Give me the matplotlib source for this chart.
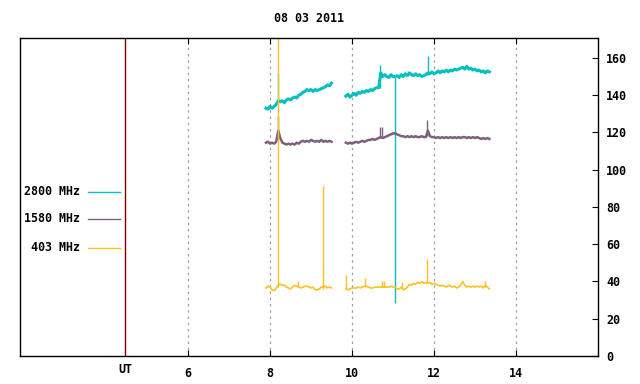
import numpy as np
import matplotlib
matplotlib.use("Agg")
import matplotlib.pyplot as plt

# ---- data (hours UT, solar flux units) ----
title = "08 03 2011"
labels = ["2800 MHz", "1580 MHz", "403 MHz"]
colors = ["#00c0c0", "#7f5f7f", "#ffc020"]
widths = [2.2, 1.8, 1.2]

seg1_start, seg1_end = 7.90, 9.50
seg2_start, seg2_end = 9.85, 13.35

f2800_seg1 = [133, 132.5, 134, 133, 134, 135, 137, 136.5, 137, 136, 137.5, 138, 137.5,
              138.5, 139, 138.5, 140, 140.5, 141.5, 142, 143, 142.5, 143, 142, 143,
              142.5, 143, 143.5, 144, 144.5, 145.5, 145, 146.5]
f2800_seg2 = [139.5, 140.5, 139, 140, 141, 140, 141.5, 141, 142, 141.5, 142.5, 142, 143,
              142.5, 143.5, 144, 144, 152, 150, 151, 150, 149.5, 151, 150, 150, 150.5,
              149.5, 151, 150, 151.5, 150.5, 152, 151, 150.5, 151.5, 150.5, 151, 150,
              150.5, 151, 152, 151.5, 152.5, 151.5, 152, 153, 152, 153, 152.5, 153.5,
              152.5, 153.5, 153, 154, 153.5, 154, 154.5, 155, 154, 155.5, 154, 154.5,
              153.5, 154, 153, 153.5, 152.5, 153, 152, 153, 152.5]
f2800_spike_t = [8.20, 10.68, 11.05, 11.85]
f2800_spike_lo = [136, 144, 150, 151]
f2800_spike_hi = [152, 156, 28.5, 161]

f1580_seg1 = [114.5, 115, 114, 114.5, 114, 115, 121, 117, 114.5, 114, 113.5, 114, 113.5,
              114, 113.5, 114.5, 114, 115, 115.5, 115, 115.5, 115, 116, 115.5, 115,
              115.5, 115, 116, 115, 115.5, 115, 115.5, 115]
f1580_seg2 = [114.5, 114, 114.5, 114, 114.5, 115, 114.5, 115, 115.5, 115, 115.5, 116,
              116, 116.5, 116, 116.5, 117, 117.5, 117, 117.5, 118, 118.5, 119, 119.5,
              119.5, 119, 118.5, 118, 118, 117.5, 118, 117.5, 118, 117.5, 118, 117.5,
              117.5, 118, 117.5, 117.5, 121, 118, 117.5, 117.5, 117, 117.5, 117, 117.5,
              117, 117.5, 117, 117.5, 117, 117.5, 117, 117.5, 117, 117.5, 117.5, 117,
              117.5, 117, 117.5, 117, 117.5, 117, 116.5, 117, 116.5, 117, 116.5]
f1580_spike_t = [8.20, 10.68, 10.74, 11.83]
f1580_spike_lo = [116, 117, 117, 118]
f1580_spike_hi = [129, 123, 123, 126.7]

f403_seg1 = [36.5, 37.5, 37, 35.5, 35, 36.5, 38, 38.5, 38, 38, 37, 36.5, 36, 37, 38,
             37.5, 37, 36.5, 37, 37.5, 37.5, 37, 36.5, 37, 35.5, 35.5, 36, 37, 37,
             37.5, 36.5, 37, 36.5]
f403_seg2 = [36, 35.5, 36, 36.5, 36.5, 36.5, 37, 36.5, 37, 37.5, 37.5, 37, 36.5, 36.5,
             37, 37, 37, 37, 37, 37, 37, 37, 37.5, 37, 37, 36, 36, 37, 35.5, 36, 37,
             38.5, 38, 39, 38.5, 39.5, 39, 40, 39, 39.5, 39, 39.5, 38.5, 39, 38.5, 38,
             37.5, 38, 37.5, 37, 38, 37.5, 37, 37.5, 36.5, 37, 38, 40, 38, 37, 37.5, 37,
             37.5, 37, 37.5, 37, 37.5, 36.5, 38, 37, 36]
f403_spike_t = [8.20, 8.68, 9.28, 9.85, 10.32, 10.72, 10.77, 11.21, 11.83, 13.24]
f403_spike_lo = [37, 37, 36, 36, 37, 37, 37, 37, 39, 37]
f403_spike_hi = [175, 40.5, 91, 43.5, 42, 40.3, 40, 39.5, 52, 40]

xticks = [6, 8, 10, 12, 14]
yticks = [0, 20, 40, 60, 80, 100, 120, 140, 160]
ut_pos = 4.46

series = [
    (f2800_seg1, f2800_seg2, f2800_spike_t, f2800_spike_lo, f2800_spike_hi),
    (f1580_seg1, f1580_seg2, f1580_spike_t, f1580_spike_lo, f1580_spike_hi),
    (f403_seg1, f403_seg2, f403_spike_t, f403_spike_lo, f403_spike_hi),
]

# ---- figure ----
plt.rcParams['font.family'] = ['DejaVu Sans Mono']
plt.rcParams['font.weight'] = 'bold'
fs = 8.4

fig = plt.figure(figsize=(6.4, 3.84), dpi=100)
ax = fig.add_axes([20 / 640, 28 / 384, 578 / 640, 318 / 384])

for (s1, s2, st, slo, shi), c, w in zip(series, colors, widths):
    t1 = np.linspace(seg1_start, seg1_end, len(s1))
    t2 = np.linspace(seg2_start, seg2_end, len(s2))
    ax.plot(t1, s1, color=c, lw=w)
    ax.plot(t2, s2, color=c, lw=w)
    ax.vlines(st, slo, shi, color=c, lw=1.0)

ax.set_xlim(1.9, 16.0)
ax.set_ylim(0, 170.7)

# UT marker line
ax.axvline(ut_pos, color="#800000", lw=1.0)

# grid on the hour ticks
for x in xticks:
    ax.axvline(x, color="#a0a0a0", lw=0.9, ls=(0, (2, 3)), zorder=0)

ax.set_xticks(xticks)
ax.set_xticklabels([str(x) for x in xticks], fontsize=fs, fontweight='bold')
ax.tick_params(axis='x', direction='in', length=4, top=True, bottom=True, pad=8)
ax.text(ut_pos, -0.022, "UT", transform=ax.get_xaxis_transform(), ha='center', va='top',
        fontsize=fs, fontweight='bold')

ax.yaxis.tick_right()
ax.set_yticks(yticks)
ax.set_yticklabels([str(y) for y in yticks], fontsize=fs, fontweight='bold')
ax.tick_params(axis='y', direction='in', length=4, right=True, left=False, pad=6)

for sp in ax.spines.values():
    sp.set_linewidth(1.0)

# legend drawn by hand like the original
leg_y = [0.516, 0.431, 0.340]
for lab, c, y in zip(labels, colors, leg_y):
    ax.text(0.1038, y, lab, transform=ax.transAxes, ha='right', va='center',
            fontsize=fs, fontweight='bold')
    ax.plot([0.1176, 0.173], [y, y], transform=ax.transAxes, color=c, lw=1.0)

fig.text(309 / 640, 1 - 19 / 384, title, ha='center', va='center', fontsize=fs,
         fontweight='bold')

fig.savefig("out.png", dpi=100)
